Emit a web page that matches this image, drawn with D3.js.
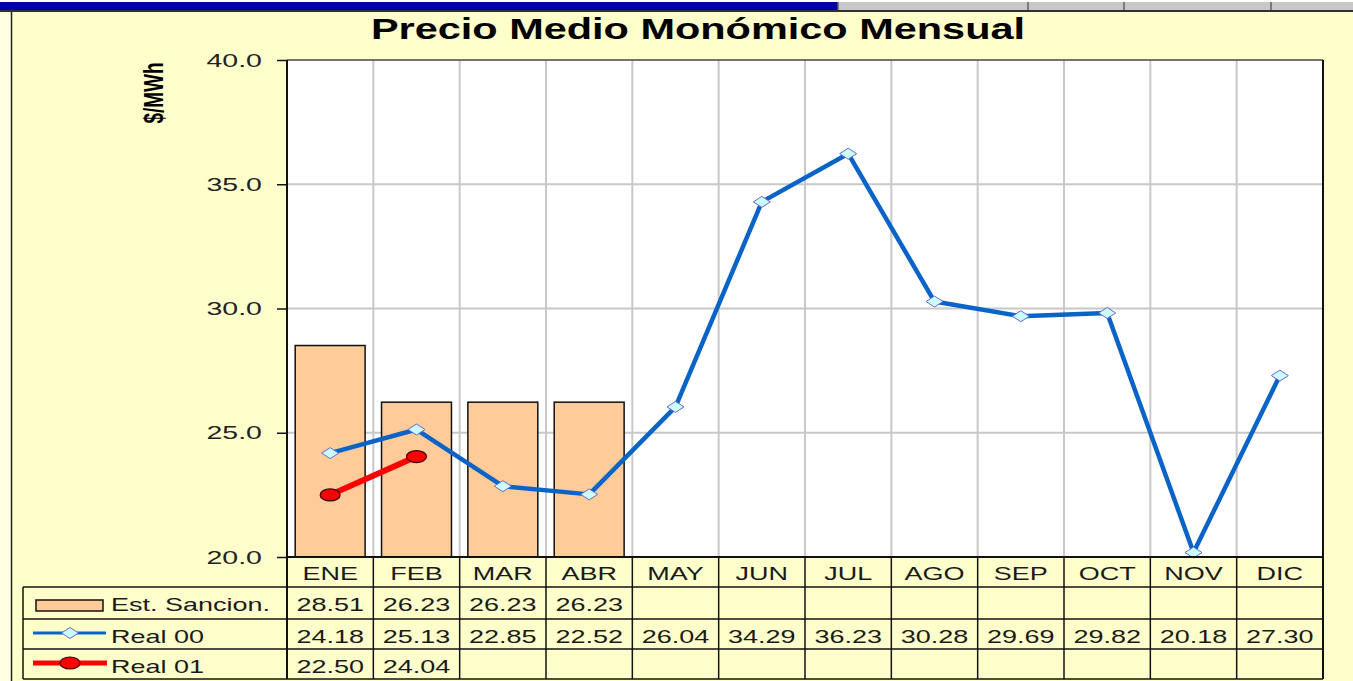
<!DOCTYPE html>
<html lang="es">
<head>
<meta charset="utf-8">
<title>Precio Medio Monómico Mensual</title>
<script src="https://cdn.jsdelivr.net/npm/d3@7"></script>
<style>
  body { margin: 0; background: #ffffdd; }
  svg { display: block; font-family: "Liberation Sans", Arial, sans-serif; }
</style>
</head>
<body>
<script>
// data
var months = ["ENE", "FEB", "MAR", "ABR", "MAY", "JUN", "JUL", "AGO", "SEP", "OCT", "NOV", "DIC"];
var estSancion = [28.51, 26.23, 26.23, 26.23];
var real00 = [24.18, 25.13, 22.85, 22.52, 26.04, 34.29, 36.23, 30.28, 29.69, 29.82, 20.18, 27.30];
var real01 = [22.50, 24.04];
var yTicks = [20, 25, 30, 35, 40];
var seriesNames = ["Est. Sancion.", "Real 00", "Real 01"];

var W = 1353, H = 681;
var plotLeft = 287, plotRight = 1323, plotTop = 60, plotBottom = 557;
var rowY = [557, 587, 619, 649, 679];
var SX = 1.5; // the original screenshot is stretched sideways

var svg = d3.select("body").append("svg").attr("width", W).attr("height", H);

// window chrome at top
svg.append("rect").attr("x", 0).attr("y", 0).attr("width", W).attr("height", H).attr("fill", "#ffffcc");
svg.append("rect").attr("x", 0).attr("y", 0).attr("width", W).attr("height", 12).attr("fill", "#ffffff");
svg.append("rect").attr("x", 0).attr("y", 2).attr("width", 838).attr("height", 8).attr("fill", "#0000a8");
svg.append("rect").attr("x", 838).attr("y", 2).attr("width", W - 838).attr("height", 8).attr("fill", "#c8c8c8");
[838, 1028, 1124, 1271].forEach(function (sx) {
    svg.append("line").attr("x1", sx).attr("x2", sx).attr("y1", 2).attr("y2", 10)
        .attr("stroke", "#606060").attr("stroke-width", 1.5);
});
svg.append("line").attr("x1", 0).attr("x2", W).attr("y1", 11).attr("y2", 11)
    .attr("stroke", "#303030").attr("stroke-width", 2);
svg.append("rect").attr("x", 0).attr("y", 12).attr("width", 11).attr("height", H - 12).attr("fill", "#ffffe4");
svg.append("line").attr("x1", 11.5).attr("x2", 11.5).attr("y1", 12).attr("y2", H)
    .attr("stroke", "#222").attr("stroke-width", 1.5);

// scales
var x = d3.scaleBand().domain(months).range([plotLeft, plotRight]).paddingInner(0.19).paddingOuter(0.095);
var y = d3.scaleLinear().domain([20, 40]).range([plotBottom, plotTop]);
var step = x.step();
function colLeft(m) { return x(m) - step * x.paddingInner() / 2; }
function cx(m) { return x(m) + x.bandwidth() / 2; }

function label(g, tx, ty, str, anchor, size, weight, sx) {
    return g.append("text")
        .attr("transform", "translate(" + tx + "," + ty + ") scale(" + (sx || SX) + ",1)")
        .attr("text-anchor", anchor || "start")
        .attr("font-size", size || 18)
        .attr("font-weight", weight || "normal")
        .attr("fill", "#1a1a1a")
        .text(str);
}

// plot background
svg.append("rect").attr("x", plotLeft).attr("y", plotTop).attr("width", plotRight - plotLeft).attr("height", plotBottom - plotTop)
    .attr("fill", "#ffffff");

// gridlines
svg.selectAll(".hgrid").data([25, 30, 35]).enter().append("line")
    .attr("x1", plotLeft).attr("x2", plotRight)
    .attr("y1", function (d) { return y(d); }).attr("y2", function (d) { return y(d); })
    .attr("stroke", "#c8c8c8").attr("stroke-width", 2);
svg.selectAll(".vgrid").data(months.slice(1)).enter().append("line")
    .attr("x1", function (d) { return colLeft(d); }).attr("x2", function (d) { return colLeft(d); })
    .attr("y1", plotTop).attr("y2", plotBottom)
    .attr("stroke", "#c8c8c8").attr("stroke-width", 2);

// bars
svg.selectAll(".bar").data(estSancion).enter().append("rect")
    .attr("x", function (d, i) { return x(months[i]); })
    .attr("y", function (d) { return y(d); })
    .attr("width", x.bandwidth())
    .attr("height", function (d) { return y(20) - y(d); })
    .attr("fill", "#ffcc99").attr("stroke", "#111").attr("stroke-width", 1.5);

// lines
var line = d3.line().x(function (d, i) { return cx(months[i]); }).y(function (d) { return y(d); });
svg.append("path").datum(real00).attr("d", line)
    .attr("fill", "none").attr("stroke", "#0a64c8").attr("stroke-width", 4.5).attr("stroke-linejoin", "round");
svg.append("path").datum(real01).attr("d", line)
    .attr("fill", "none").attr("stroke", "#ff0000").attr("stroke-width", 6);

function diamond(g, px, py) {
    g.append("path")
        .attr("d", "M" + (px - 8.5) + "," + py + "L" + px + "," + (py - 5.5) + "L" + (px + 8.5) + "," + py + "L" + px + "," + (py + 5.5) + "Z")
        .attr("fill", "#ccffff").attr("stroke", "#6666cc").attr("stroke-width", 1);
}
function dot(g, px, py) {
    g.append("ellipse").attr("cx", px).attr("cy", py).attr("rx", 10).attr("ry", 6)
        .attr("fill", "#ff0000").attr("stroke", "#400000").attr("stroke-width", 1.2);
}
real00.forEach(function (d, i) { diamond(svg, cx(months[i]), y(d)); });
real01.forEach(function (d, i) { dot(svg, cx(months[i]), y(d)); });

// y axis
var yAxis = svg.append("g").attr("transform", "translate(" + plotLeft + ",0)")
    .call(d3.axisLeft(y).tickValues(yTicks).tickFormat(d3.format(".1f")).tickSize(10).tickPadding(6.7));
yAxis.select(".domain").remove();
yAxis.selectAll(".tick line").attr("stroke", "#111").attr("stroke-width", 1.5);
yAxis.selectAll("text").attr("font-size", 19).attr("fill", "#222")
    .attr("font-family", "Liberation Sans, Arial, sans-serif")
    .attr("transform", "scale(" + SX + ",1)");

// plot frame
svg.append("line").attr("x1", plotLeft).attr("x2", plotRight).attr("y1", plotTop).attr("y2", plotTop)
    .attr("stroke", "#444").attr("stroke-width", 1.5);
svg.append("line").attr("x1", plotLeft).attr("x2", plotRight).attr("y1", plotBottom).attr("y2", plotBottom)
    .attr("stroke", "#111").attr("stroke-width", 2);
svg.append("line").attr("x1", plotLeft).attr("x2", plotLeft).attr("y1", plotTop).attr("y2", rowY[4])
    .attr("stroke", "#111").attr("stroke-width", 2);
svg.append("line").attr("x1", plotRight).attr("x2", plotRight).attr("y1", plotTop).attr("y2", rowY[4])
    .attr("stroke", "#111").attr("stroke-width", 2);

// data table
var table = svg.append("g");
rowY.slice(1).forEach(function (ry) {
    table.append("line").attr("x1", 23).attr("x2", plotRight).attr("y1", ry).attr("y2", ry)
        .attr("stroke", "#111").attr("stroke-width", 1.5);
});
table.append("line").attr("x1", 23).attr("x2", 23).attr("y1", rowY[1]).attr("y2", rowY[4])
    .attr("stroke", "#111").attr("stroke-width", 1.5);
months.slice(1).forEach(function (m) {
    table.append("line").attr("x1", colLeft(m)).attr("x2", colLeft(m)).attr("y1", rowY[0]).attr("y2", rowY[4])
        .attr("stroke", "#111").attr("stroke-width", 1.5);
});
months.forEach(function (m) { label(table, cx(m), 580, m, "middle"); });
var rows = [estSancion, real00, real01];
rows.forEach(function (vals, r) {
    vals.forEach(function (v, i) {
        label(table, cx(months[i]), rowY[r + 1] + 24, v.toFixed(2), "middle");
    });
    label(table, 111, rowY[r + 1] + 24, seriesNames[r], "start");
});

// legend keys
table.append("rect").attr("x", 36).attr("y", 600).attr("width", 67).attr("height", 11)
    .attr("fill", "#ffcc99").attr("stroke", "#111").attr("stroke-width", 1.5);
table.append("line").attr("x1", 33).attr("x2", 106).attr("y1", 633).attr("y2", 633)
    .attr("stroke", "#0a64c8").attr("stroke-width", 3);
diamond(table, 70, 633);
table.append("line").attr("x1", 33).attr("x2", 107).attr("y1", 663).attr("y2", 663)
    .attr("stroke", "#ff0000").attr("stroke-width", 5);
dot(table, 70, 663);

// title and axis label
label(svg, 698, 39, "Precio Medio Monómico Mensual", "middle", 29, "bold", 1.43).attr("fill", "#000");
svg.append("text")
    .attr("transform", "translate(163,93) scale(" + SX + ",1) rotate(-90)")
    .attr("text-anchor", "middle")
    .attr("font-size", 19).attr("font-weight", "bold")
    .attr("font-family", "Liberation Sans Narrow, Liberation Sans, Arial, sans-serif")
    .attr("fill", "#000")
    .text("$/MWh");
</script>
</body>
</html>
